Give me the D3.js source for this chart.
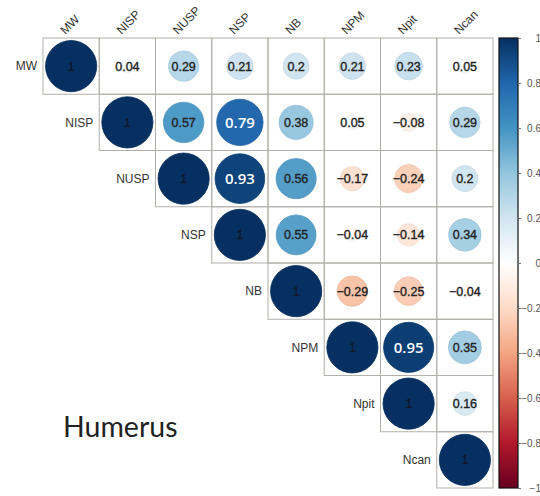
<!DOCTYPE html>
<html>
<head>
<meta charset="utf-8">
<script src="https://cdn.jsdelivr.net/npm/d3@7"></script>
<style>
  html, body { margin: 0; padding: 0; background: #fff; }
  svg { display: block; }
</style>
</head>
<body>
<div id="chart"></div>
<script>
// ---- Data (upper triangle of the correlation matrix, row by row) ----
const variables = ["MW", "NISP", "NUSP", "NSP", "NB", "NPM", "Npit", "Ncan"];
const rowMW   = [1, 0.04, 0.29, 0.21, 0.2, 0.21, 0.23, 0.05];
const rowNISP = [1, 0.57, 0.79, 0.38, 0.05, -0.08, 0.29];
const rowNUSP = [1, 0.93, 0.56, -0.17, -0.24, 0.2];
const rowNSP  = [1, 0.55, -0.04, -0.14, 0.34];
const rowNB   = [1, -0.29, -0.25, -0.04];
const rowNPM  = [1, 0.95, 0.35];
const rowNpit = [1, 0.16];
const rowNcan = [1];
const legendTicks = [1, 0.8, 0.6, 0.4, 0.2, 0, -0.2, -0.4, -0.6, -0.8, -1];
const whiteLabelValues = [0.79, 0.93, 0.95];
const chartTitle = "Humerus";

const rows = [rowMW, rowNISP, rowNUSP, rowNSP, rowNB, rowNPM, rowNpit, rowNcan];
const cells = [];
rows.forEach((r, i) => r.forEach((v, k) => cells.push({ i, j: i + k, v })));

// ---- Layout ----
const W = 540, H = 496;
const gridX0 = 43, gridY0 = 38, gridSize = 450;

const svg = d3.select("#chart").append("svg")
  .attr("width", W).attr("height", H);

const x = d3.scaleBand().domain(d3.range(variables.length)).range([gridX0, gridX0 + gridSize]);
const y = d3.scaleBand().domain(d3.range(variables.length)).range([gridY0, gridY0 + gridSize]);
const cs = x.bandwidth();

const paletteCols = ["#67001F", "#B2182B", "#D6604D", "#F4A582", "#FDDBC7", "#FFFFFF",
                     "#D1E5F0", "#92C5DE", "#4393C3", "#2166AC", "#053061"];
const color = d3.scaleLinear()
  .domain(d3.range(11).map(k => -1 + k * 0.2))
  .range(paletteCols)
  .interpolate(d3.interpolateRgb);
const rScale = d3.scalePow().exponent(0.42).domain([0, 1]).range([0, cs * 0.455]);

// grid cells
svg.append("g").selectAll("rect").data(cells).join("rect")
  .attr("x", d => x(d.j)).attr("y", d => y(d.i))
  .attr("width", cs).attr("height", cs)
  .attr("fill", "none").attr("stroke", "#b3b0aa").attr("stroke-width", 1);

// circles
svg.append("g").selectAll("circle").data(cells).join("circle")
  .attr("cx", d => x(d.j) + cs / 2).attr("cy", d => y(d.i) + cs / 2)
  .attr("r", d => rScale(Math.abs(d.v)))
  .attr("fill", d => color(d.v))
  .attr("stroke", d => d3.color(color(d.v)).darker(0.15))
  .attr("stroke-width", 0.8);

// coefficients
svg.append("g").selectAll("text").data(cells).join("text")
  .attr("x", d => x(d.j) + cs / 2).attr("y", d => y(d.i) + cs / 2)
  .attr("dy", "0.36em")
  .attr("text-anchor", "middle")
  .attr("font-family", d => whiteLabelValues.includes(d.v) ? "'Open Sans', sans-serif" : "'Liberation Sans', Arial, sans-serif")
  .attr("font-size", d => whiteLabelValues.includes(d.v) ? 15 : 12.5)
  .attr("font-weight", d => whiteLabelValues.includes(d.v) ? 600 : 400)
  .attr("fill", d => whiteLabelValues.includes(d.v) ? "#ffffff" : (d.v === 1 ? "#111a2a" : "#222"))
  .attr("stroke", d => whiteLabelValues.includes(d.v) ? "none" : (d.v === 1 ? "#111a2a" : "#222"))
  .attr("stroke-width", 0.35)
  .text(d => d3.format("")(d.v));

// row labels (left of the diagonal)
svg.append("g").selectAll("text").data(variables).join("text")
  .attr("x", (d, i) => x(i) - 6).attr("y", (d, i) => y(i) + cs / 2)
  .attr("dy", "0.35em").attr("text-anchor", "end")
  .attr("font-family", "'Liberation Sans', Arial, sans-serif")
  .attr("font-size", 12).attr("fill", "#333")
  .text(d => d);

// column labels (rotated, above the grid)
svg.append("g").selectAll("text").data(variables).join("text")
  .attr("transform", (d, i) => `translate(${x(i) + cs / 2 - 6},${gridY0 - 3}) rotate(-45)`)
  .attr("text-anchor", "start")
  .attr("font-family", "'Liberation Sans', Arial, sans-serif")
  .attr("font-size", 12).attr("fill", "#333")
  .text(d => d);

// colour bar
const barX = 499, barW = 19;
const ly = d3.scaleLinear().domain([1, -1]).range([gridY0, gridY0 + gridSize]);
const defs = svg.append("defs");
const grad = defs.append("linearGradient").attr("id", "cbar")
  .attr("x1", 0).attr("y1", 0).attr("x2", 0).attr("y2", 1);
d3.range(0, 1.0001, 0.05).forEach(t => {
  grad.append("stop").attr("offset", t).attr("stop-color", color(1 - 2 * t));
});
svg.append("rect").attr("x", barX).attr("y", ly(1))
  .attr("width", barW).attr("height", ly(-1) - ly(1))
  .attr("fill", "url(#cbar)").attr("stroke", "#111").attr("stroke-width", 1.2);

const legAxis = d3.axisRight(ly).tickValues(legendTicks).tickSize(3)
  .tickFormat(d => d3.format("")(d));
const lg = svg.append("g").attr("transform", `translate(${barX + barW},0)`).call(legAxis);
lg.select(".domain").remove();
lg.selectAll(".tick line").attr("stroke", "#777");
lg.selectAll(".tick text")
  .attr("x", 541 - barX - barW).attr("text-anchor", "end")
  .attr("font-family", "'Liberation Sans', Arial, sans-serif")
  .attr("font-size", 10).attr("fill", "#555");

// title
svg.append("text").attr("x", 63).attr("y", 437)
  .attr("font-family", "Lato, 'Open Sans', sans-serif")
  .attr("font-size", 28.5).attr("fill", "#222")
  .text(chartTitle);
</script>
</body>
</html>
